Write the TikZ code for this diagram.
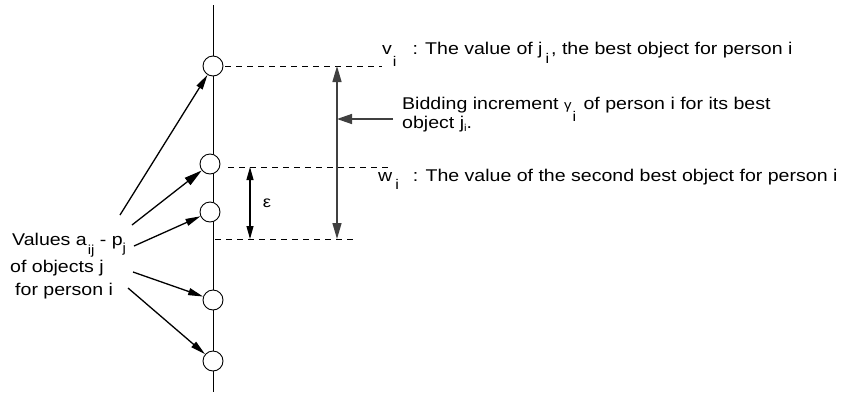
\documentclass[tikz,border=0pt]{standalone}
\usepackage{fontspec}
\setmainfont[FakeStretch=1.15]{Liberation Sans}
\usetikzlibrary{arrows.meta}
\newcommand\lowsub[3][14]{\raisebox{-#2pt}{\fontsize{#1}{#1}\selectfont #3}}
\begin{document}
\begin{tikzpicture}[x=1pt,y=-1pt,
  txt/.style={font=\fontsize{17}{20}\selectfont, inner sep=0pt, anchor=base west},
  obj/.style={circle, draw, fill=white, minimum size=20pt, inner sep=0pt, line width=0.9pt},
  val/.style={-{Triangle[length=15pt,width=7pt]}, line width=1.3pt},
  valbig/.style={-{Triangle[length=18pt,width=9pt]}, line width=1.3pt},
  dashln/.style={dash pattern=on 6pt off 5pt, line width=0.9pt},
  dimsmall/.style={{Triangle[length=13pt,width=7pt]}-{Triangle[length=13pt,width=7pt]}, line width=1.1pt},
  dimbig/.style={{Triangle[length=16pt,width=9pt]}-{Triangle[length=16pt,width=9pt]}, line width=1.4pt, draw=black!75}]
\useasboundingbox (0,0) rectangle (847,392);
% axis
\coordinate (top) at (213,5);
\coordinate (bot) at (213,392);
\draw[line width=0.9pt] (top) -- (bot);
% objects
\node[obj] (c1) at (213,66) {};
\node[obj] (c2) at (210,164) {};
\node[obj] (c3) at (210,212) {};
\node[obj] (c4) at (213,300) {};
\node[obj] (c5) at (213,361) {};
% dashed levels
\coordinate (d1a) at (225,66);  \coordinate (d1b) at (382,66);
\coordinate (d2a) at (228,167); \coordinate (d2b) at (388,167);
\coordinate (d3a) at (215,239); \coordinate (d3b) at (357,239);
\draw[dashln] (d1a) -- (d1b);
\draw[dashln] (d2a) -- (d2b);
\draw[dashln] (d3a) -- (d3b);
% epsilon
\coordinate (e1) at (250,167); \coordinate (e2) at (250,239);
\draw[dimsmall] (e1) -- (e2);
\node[font=\fontsize{16}{16}\selectfont, inner sep=0pt] (eps) at (267,203) {ε};
% bidding increment
\coordinate (g1) at (337,66); \coordinate (g2) at (337,239);
\draw[dimbig] (g1) -- (g2);
\coordinate (h1) at (393,119); \coordinate (h2) at (337,119);
\draw[-{Triangle[length=15pt,width=10pt]}, line width=1.4pt, draw=black!75] (h1) -- (h2);
% right texts
\node[txt] (vlab) at (382,54) {v\hspace{1pt}\lowsub{12}{i}\hspace{16pt}: The value of j\hspace{3pt}\lowsub{9}{i}\hspace{2pt}, the best object for person i};
\node[txt] (bid1) at (402,109) {Bidding increment {\fontsize{13}{13}\selectfont γ}\hspace{1pt}\lowsub{12}{i}\hspace{2pt} of person i for its best};
\node[txt] (bid2) at (402,128) {object j\lowsub[10]{3}{i}.};
\node[txt] (wlab) at (378,181) {w\hspace{3pt}\lowsub{8}{i}\hspace{14pt}: The value of the second best object for person i};
% left texts
\node[txt] (l1) at (12,245) {Values a\hspace{1pt}\lowsub[13]{9}{ij} - p\lowsub[13]{7}{j}};
\node[txt] (l2) at (10,272) {of objects j};
\node[txt] (l3) at (15,295) {for person i};
% value arrows
\coordinate (a1) at (120,215);
\coordinate (a2) at (132,225);
\coordinate (a3) at (134,246);
\coordinate (a4) at (133,272);
\coordinate (a5) at (128,288);
\draw[val] (a1) -- (c1);
\draw[valbig] (a2) -- (c2);
\draw[val] (a3) -- (c3);
\draw[val] (a4) -- (c4);
\draw[val] (a5) -- (c5);
\end{tikzpicture}
\end{document}
